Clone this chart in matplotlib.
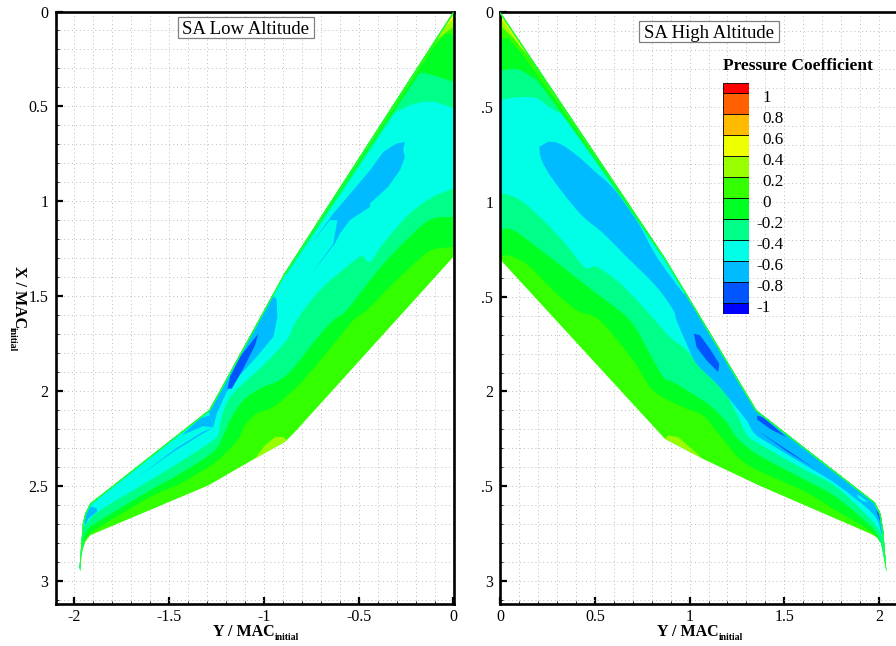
import numpy as np
import matplotlib
matplotlib.use("Agg")
import matplotlib.pyplot as plt
from matplotlib.patches import Polygon, PathPatch, Rectangle
from matplotlib.path import Path

plt.rcParams["font.family"] = ["Liberation Serif", "DejaVu Serif"]

# Cp legend
cp_levels = [-1.1, -1, -0.8, -0.6, -0.4, -0.2, 0, 0.2, 0.4, 0.6, 0.8, 1, 1.1]
cp_labels = ["-1", "-0.8", "-0.6", "-0.4", "-0.2", "0", "0.2", "0.4", "0.6", "0.8", "1"]
cp_colors = ["#0000ff", "#0055ff", "#00bbff", "#00ffe6", "#00ff88", "#00ff22",
             "#33ff00", "#99ff00", "#eeff00", "#ffbb00", "#ff6000", "#ff0000"]
c_dark, c_sky, c_cyan, c_mint, c_green, c_grass, c_lime, c_yellow = cp_colors[1:9]

# left panel, all points are (Y, X)
L_le = [(0, 0), (-0.893, 1.385), (-1.286, 2.10), (-1.914, 2.594), (-1.94, 2.647),
        (-1.953, 2.70), (-1.97, 2.928), (-1.967, 2.95)]
L_te = [(-1.96, 2.858), (-1.94, 2.796), (-1.914, 2.761), (-1.291, 2.498), (-1.063, 2.366),
        (-0.888, 2.269), (-0.835, 2.216), (0, 1.293)]
L_front_green = [(0, 0.13), (-0.028, 0.116), (-0.08, 0.12)]
L_front_mint = [(0, 0.371), (-0.107, 0.336), (-0.168, 0.323), (-0.22, 0.33)]
L_front_cyan = [(0, 0.511), (-0.107, 0.476), (-0.212, 0.489), (-0.318, 0.538)]
L_aft_green = [(0, 1.241), (-0.107, 1.255), (-0.177, 1.302), (-0.318, 1.434), (-0.458, 1.575),
               (-0.528, 1.627), (-0.651, 1.777), (-0.809, 1.961), (-0.949, 2.084), (-1.037, 2.119),
               (-1.098, 2.181), (-1.133, 2.251), (-1.195, 2.322), (-1.265, 2.383), (-1.44, 2.489),
               (-1.598, 2.559), (-1.879, 2.726), (-1.923, 2.761), (-1.949, 2.805), (-1.967, 2.95)]
L_aft_mint = [(0, 1.083), (-0.107, 1.091), (-0.195, 1.153), (-0.335, 1.293), (-0.44, 1.417),
              (-0.563, 1.575), (-0.633, 1.627), (-0.721, 1.724), (-0.879, 1.917), (-1.019, 1.988),
              (-1.107, 2.05), (-1.168, 2.137), (-1.212, 2.234), (-1.265, 2.321), (-1.44, 2.436),
              (-1.598, 2.524), (-1.861, 2.682), (-1.923, 2.726), (-1.949, 2.788), (-1.967, 2.95)]
L_aft_cyan = [(0, 0.933), (-0.107, 0.977), (-0.23, 1.065), (-0.37, 1.223), (-0.44, 1.32),
              (-0.484, 1.29), (-0.563, 1.346), (-0.704, 1.469), (-0.826, 1.627), (-0.879, 1.733),
              (-1.002, 1.865), (-1.089, 1.944), (-1.177, 2.032), (-1.221, 2.137), (-1.239, 2.225),
              (-1.265, 2.26), (-1.44, 2.374), (-1.598, 2.471), (-1.861, 2.629), (-1.932, 2.699),
              (-1.953, 2.752), (-1.967, 2.95)]
L_sky_lobe = [(-0.256, 0.687), (-0.265, 0.731), (-0.256, 0.766), (-0.282, 0.837), (-0.344, 0.924),
              (-0.44, 1.012), (-0.44, 1.03), (-0.546, 1.1), (-0.598, 1.17), (-0.625, 1.223),
              (-0.747, 1.381), (-0.633, 1.223), (-0.612, 1.1), (-0.651, 1.1), (-0.747, 1.223),
              (-0.633, 1.065), (-0.528, 0.942), (-0.44, 0.837), (-0.37, 0.74), (-0.3, 0.696)]
L_sky_main = [(-0.932, 1.514), (-0.928, 1.61), (-0.949, 1.715), (-1.037, 1.82), (-1.125, 1.917),
              (-1.195, 2.005), (-1.247, 2.119), (-1.265, 2.19), (-1.282, 2.128), (-1.309, 2.067),
              (-1.054, 1.575), (-0.984, 1.478)]
L_sky_patch = [(-1.432, 2.234), (-1.318, 2.186), (-1.265, 2.193), (-1.282, 2.128), (-1.335, 2.145)]
L_sky_sliver = [(-1.265, 2.193), (-1.335, 2.234), (-1.475, 2.321), (-1.66, 2.453), (-1.465, 2.305),
                (-1.325, 2.218)]
L_sky_tip = [(-1.946, 2.682), (-1.93, 2.629), (-1.907, 2.61), (-1.879, 2.62), (-1.879, 2.638),
             (-1.923, 2.672), (-1.94, 2.708)]
L_dark = [(-1.028, 1.698), (-1.046, 1.76), (-1.107, 1.882), (-1.168, 1.988), (-1.19, 1.988),
          (-1.177, 1.927), (-1.125, 1.82)]
L_lime = [(-1.054, 2.366), (-0.993, 2.287), (-0.94, 2.243), (-0.896, 2.243), (-0.879, 2.261),
          (-0.888, 2.269)]
# leading edge stripes, apex to the first kink
L_edge_mint = [(-0.2, 0.31), (-0.285, 0.5), (-0.619, 1.0), (-0.877, 1.385), (-0.893, 1.385)]
L_edge_green = [(-0.066, 0.1), (-0.088, 0.19), (-0.296, 0.5), (-0.629, 1.0), (-0.885, 1.385), (-0.893, 1.385)]
L_edge_grass = [(0, 0), (-0.035, 0.11), (-0.104, 0.19), (-0.306, 0.5), (-0.635, 1.0), (-0.89, 1.385),
                (-0.893, 1.385)]
L_edge_lime = [(0, 0), (0, 0.08), (-0.09, 0.15), (-0.123, 0.19)]
L_edge_yellow = [(0, 0), (0, 0.04), (-0.065, 0.1)]

# right panel
R_le = [(0, 0), (0.872, 1.30), (1.354, 2.10), (1.979, 2.585), (2.009, 2.646), (2.023, 2.734),
        (2.04, 2.95)]
R_te = [(2.025, 2.87), (2.012, 2.80), (1.99, 2.77), (1.961, 2.752), (1.371, 2.497), (1.072, 2.356),
        (0.87, 2.25), (0, 1.305)]
R_front_green = [(0, 0.146), (0.042, 0.137), (0.1, 0.14)]
R_front_mint = [(0, 0.308), (0.086, 0.301), (0.148, 0.331), (0.218, 0.375)]
R_front_cyan = [(0, 0.463), (0.095, 0.449), (0.192, 0.454), (0.254, 0.498), (0.315, 0.533)]
R_aft_green = [(0, 1.287), (0.06, 1.287), (0.157, 1.343), (0.28, 1.467), (0.403, 1.572), (0.526, 1.625),
               (0.702, 1.836), (0.808, 1.995), (0.967, 2.083), (1.072, 2.127), (1.16, 2.232),
               (1.301, 2.382), (1.6, 2.523), (1.776, 2.628), (1.952, 2.734), (1.996, 2.778),
               (2.023, 2.857), (2.04, 2.95)]
R_aft_mint = [(0, 1.144), (0.069, 1.15), (0.192, 1.238), (0.35, 1.361), (0.509, 1.484), (0.685, 1.625),
              (0.79, 1.801), (0.861, 1.924), (0.914, 1.951), (1.002, 2.004), (1.107, 2.074),
              (1.195, 2.162), (1.248, 2.241), (1.354, 2.329), (1.6, 2.461), (1.776, 2.558),
              (1.979, 2.734), (2.014, 2.84), (2.04, 2.95)]
R_aft_cyan = [(0, 0.952), (0.104, 0.991), (0.227, 1.097), (0.35, 1.229), (0.447, 1.347), (0.509, 1.343),
              (0.614, 1.414), (0.738, 1.537), (0.817, 1.625), (0.896, 1.713), (0.984, 1.783),
              (1.072, 1.889), (1.178, 1.994), (1.248, 2.118), (1.301, 2.224), (1.354, 2.268),
              (1.6, 2.408), (1.776, 2.505), (1.979, 2.699), (2.023, 2.805), (2.04, 2.95)]
R_sky_aft = [(0.206, 0.71), (0.218, 0.78), (0.28, 0.886), (0.421, 1.062), (0.544, 1.167), (0.667, 1.29),
             (0.826, 1.449), (0.914, 1.572), (0.931, 1.625), (0.984, 1.748), (1.037, 1.854),
             (1.143, 1.959), (1.231, 2.065), (1.301, 2.153), (1.345, 2.224), (1.424, 2.276),
             (1.6, 2.382), (1.776, 2.489), (1.97, 2.646), (2.014, 2.752)]
R_sky_fwd = [(0.254, 0.683), (0.315, 0.695), (0.403, 0.754), (0.491, 0.833), (0.597, 0.93),
             (0.72, 1.097), (0.826, 1.29), (0.967, 1.484)]
R_cyan_patch = [(1.886, 2.541), (1.944, 2.581), (1.92, 2.58), (1.89, 2.56)]
R_dark_a = [(1.023, 1.695), (1.055, 1.704), (1.107, 1.775), (1.157, 1.854), (1.151, 1.898),
            (1.09, 1.836), (1.037, 1.766)]
R_dark_b = [(1.357, 2.127), (1.389, 2.136), (1.512, 2.241), (1.43, 2.2), (1.357, 2.148)]
R_dark_c = [(1.371, 2.215), (1.512, 2.306), (1.653, 2.4), (1.52, 2.32), (1.389, 2.228)]
R_dark_tip = [(1.986, 2.625), (2.0, 2.64), (2.012, 2.69), (2.0, 2.67)]
R_lime = [(0.87, 2.25), (0.887, 2.232), (0.94, 2.241), (1.002, 2.294), (1.072, 2.356)]
R_edge_mint = [(0.33, 0.5), (0.377, 0.6), (0.617, 0.95), (0.862, 1.3), (0.872, 1.3)]
R_edge_green = [(0.06, 0.09), (0.11, 0.25), (0.272, 0.463), (0.622, 0.95), (0.866, 1.3), (0.872, 1.3)]
R_edge_grass = [(0, 0), (0.04, 0.135), (0.13, 0.24), (0.29, 0.463), (0.63, 0.95), (0.87, 1.3), (0.872, 1.3)]
R_edge_lime = [(0, 0), (0, 0.07), (0.08, 0.15), (0.2, 0.3)]
R_edge_yellow = [(0, 0), (0, 0.03), (0.12, 0.2), (0.135, 0.2)]

x_major = [0, 0.5, 1, 1.5, 2, 2.5, 3]
left_xticks = [-2, -1.5, -1, -0.5, 0]
left_xlabels = ["-2", "-1.5", "-1", "-0.5", "0"]
left_ylabels = ["0", "0.5", "1", "1.5", "2", "2.5", "3"]
right_xticks = [0, 0.5, 1, 1.5, 2]
right_xlabels = ["0", "0.5", "1", "1.5", "2"]
right_ylabels = ["0", ".5", "1", ".5", "2", ".5", "3"]

W, H = 896, 646


def px_axes(x0, y0, x1, y1):
    return fig.add_axes([x0 / W, 1 - y1 / H, (x1 - x0) / W, (y1 - y0) / H])


def curve(pts):
    # bezier control points so a contour passes smoothly through its read-off points
    p = np.array(pts, dtype=float)
    verts, codes = [], []
    for i in range(len(p) - 1):
        a = p[max(i - 1, 0)]
        d = p[min(i + 2, len(p) - 1)]
        verts += [p[i] + (p[i + 1] - a) / 6, p[i + 1] - (d - p[i]) / 6, p[i + 1]]
        codes += [Path.CURVE4] * 3
    return verts, codes


def smooth_path(first, link, second):
    # first contour, straight through the link points, second contour back
    verts, codes = [np.array(first[0], dtype=float)], [Path.MOVETO]
    v, c = curve(first)
    verts += v
    codes += c
    for q in list(link) + [second[0]]:
        verts.append(np.array(q, dtype=float))
        codes.append(Path.LINETO)
    v, c = curve(second)
    verts += v
    codes += c
    verts.append(verts[0])
    codes.append(Path.CLOSEPOLY)
    return Path(verts, codes)


def fill(ax, clip, pts, color):
    p = Polygon(pts, closed=True, facecolor=color, edgecolor="none", zorder=2)
    ax.add_patch(p)
    p.set_clip_path(clip)


def fill_path(ax, clip, path, color):
    p = PathPatch(path, facecolor=color, edgecolor="none", zorder=2)
    ax.add_patch(p)
    p.set_clip_path(clip)


def setup(ax, xticks, xlabels, ylabels, minor_x):
    ax.set_xticks(xticks)
    ax.set_xticklabels(xlabels)
    ax.set_yticks(x_major)
    ax.set_yticklabels(ylabels)
    ax.set_xticks(minor_x, minor=True)
    ax.set_yticks(np.arange(0, 3.11, 0.1), minor=True)
    ax.tick_params(which="major", direction="in", length=5, width=1.6, labelsize=11.5, pad=3.5)
    ax.tick_params(axis="y", which="major", pad=5)
    ax.tick_params(which="minor", direction="in", length=2, width=0.6)
    ax.grid(which="both", color="#bdbdbd", linestyle=(0, (1, 3)), linewidth=0.7)
    ax.set_axisbelow(True)
    for s in ax.spines.values():
        s.set_linewidth(1.9)


def draw_wing(ax, le, te, side, fronts, afts):
    wing = Polygon(le + te, closed=True, facecolor=c_grass, edgecolor="none", zorder=2)
    ax.add_patch(wing)
    for front, aft, col in zip(fronts, afts, [c_green, c_mint, c_cyan]):
        link = [(side * 2.5, front[-1][1]), (side * 2.5, aft[-1][1])]
        fill_path(ax, wing, smooth_path(front, link, aft[::-1]), col)
    return wing


def stripe(ax, wing, le):
    pts = np.array(le)
    for lw, col in [(2.0, c_mint), (1.2, c_grass)]:
        ln, = ax.plot(pts[:, 0], pts[:, 1], color=col, lw=lw, zorder=3, solid_joinstyle="miter")
        ln.set_clip_path(wing)


def edge_stripes(ax, wing, stripes):
    for pts, col in stripes:
        fill(ax, wing, pts, col)


fig = plt.figure(figsize=(W / 100, H / 100), dpi=100)

# left wing
ax1 = px_axes(55.5, 11.5, 453.5, 603.7)
ax1.set_xlim(-2.097, 0)
ax1.set_ylim(3.122, 0)
setup(ax1, left_xticks, left_xlabels, left_ylabels, np.arange(-2.0, 0.01, 0.1))
wing1 = draw_wing(ax1, L_le, L_te, -1,
                  [L_front_green, L_front_mint, L_front_cyan],
                  [L_aft_green, L_aft_mint, L_aft_cyan])
for pts in [L_sky_lobe, L_sky_main, L_sky_patch, L_sky_sliver, L_sky_tip]:
    fill(ax1, wing1, pts, c_sky)
fill(ax1, wing1, L_dark, c_dark)
fill(ax1, wing1, L_lime, c_lime)
stripe(ax1, wing1, L_le)
edge_stripes(ax1, wing1, [(L_edge_mint, c_mint), (L_edge_green, c_green), (L_edge_grass, c_grass),
                          (L_edge_lime, c_lime), (L_edge_yellow, c_yellow)])

# right wing
ax2 = px_axes(500.3, 12, 897.8, 604)
ax2.set_xlim(0, 2.1)
ax2.set_ylim(3.12, 0)
setup(ax2, right_xticks, right_xlabels, right_ylabels, np.arange(0, 2.11, 0.1))
wing2 = draw_wing(ax2, R_le, R_te, 1,
                  [R_front_green, R_front_mint, R_front_cyan],
                  [R_aft_green, R_aft_mint, R_aft_cyan])
sky_out = [(2.5, 2.752), (2.5, 1.484)]
fill_path(ax2, wing2, smooth_path(R_sky_aft, sky_out, R_sky_fwd[::-1]), c_sky)
fill(ax2, wing2, R_cyan_patch, c_cyan)
for pts in [R_dark_a, R_dark_b, R_dark_c, R_dark_tip]:
    fill(ax2, wing2, pts, c_dark)
fill(ax2, wing2, R_lime, c_lime)
stripe(ax2, wing2, R_le)
edge_stripes(ax2, wing2, [(R_edge_mint, c_mint), (R_edge_green, c_green), (R_edge_grass, c_grass),
                          (R_edge_lime, c_lime), (R_edge_yellow, c_yellow)])

# text boxes
for x0, y0, x1, y1, s in [(177.5, 17.5, 314, 38, "SA Low Altitude"),
                          (639, 21.5, 779, 41.5, "SA High Altitude")]:
    fig.add_artist(Rectangle((x0 / W, 1 - y1 / H), (x1 - x0) / W, (y1 - y0) / H, transform=fig.transFigure,
                             facecolor="white", edgecolor="#808080", linewidth=0.9, zorder=5))
    fig.text((x0 + x1) / 2 / W, 1 - ((y0 + y1) / 2 + 1.5) / H, s, fontsize=13.5, ha="center", va="center", zorder=6)

# axis labels
for x_main, x_sub in [(213, 274.5), (656.7, 718.8)]:
    fig.text(x_main / W, 1 - 636 / H, "Y / MAC", fontsize=11.5, fontweight="bold", va="baseline")
    fig.text(x_sub / W, 1 - 640 / H, "initial", fontsize=7, fontweight="bold", va="baseline")
fig.text(15 / W, 1 - 265.7 / H, "X / MAC", fontsize=11.5, fontweight="bold", rotation=270,
         rotation_mode="anchor", ha="left", va="baseline")
fig.text(10 / W, 1 - 327 / H, "initial", fontsize=7, fontweight="bold", rotation=270,
         rotation_mode="anchor", ha="left", va="baseline")

# legend
cax = px_axes(722.7, 82.7, 748.7, 314)
cax.bar(0, np.diff(cp_levels), bottom=cp_levels[:-1], width=1, color=cp_colors,
        edgecolor="black", linewidth=0.6, align="edge")
cax.set_xlim(0, 1)
cax.set_ylim(cp_levels[0], cp_levels[-1])
cax.axis("off")
for lev, s in zip(cp_levels[1:-1], cp_labels):
    xp = 1.31 if s.startswith("-") else 1.52
    cax.annotate(s, (xp, lev), xycoords=cax.get_yaxis_transform(), xytext=(0, -3.2),
                 textcoords="offset points", fontsize=12.3, ha="left", va="center")
fig.text(723 / W, 1 - 66 / H, "Pressure Coefficient", fontsize=12.5, fontweight="bold", ha="left", va="center")

fig.savefig("out.png", dpi=100)
